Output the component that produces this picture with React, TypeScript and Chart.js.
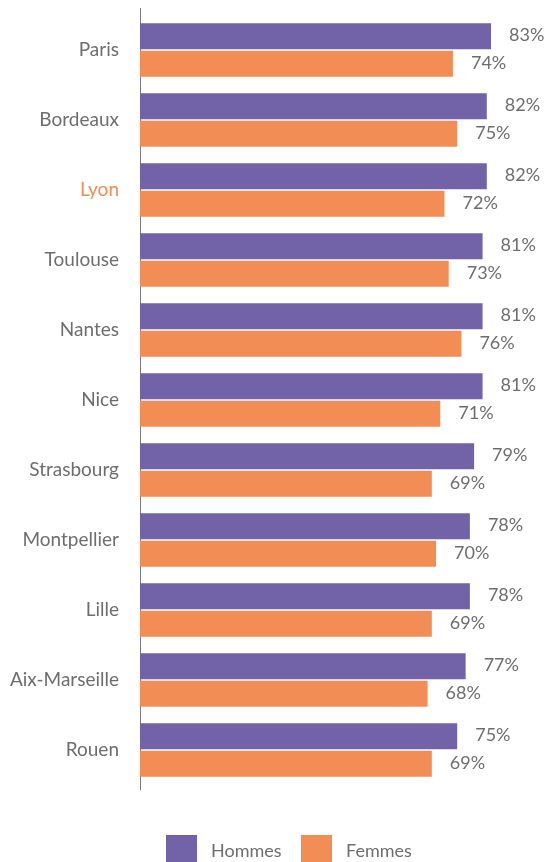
import React, { useEffect, useRef } from "react";
import { Chart, registerables } from "chart.js";

Chart.register(...registerables);

const categories = [
  "Paris",
  "Bordeaux",
  "Lyon",
  "Toulouse",
  "Nantes",
  "Nice",
  "Strasbourg",
  "Montpellier",
  "Lille",
  "Aix-Marseille",
  "Rouen",
];
const hommes = [83, 82, 82, 81, 81, 81, 79, 78, 78, 77, 75];
const femmes = [74, 75, 72, 73, 76, 71, 69, 70, 69, 68, 69];
const seriesLabels = ["Hommes", "Femmes"];
const highlighted = "Lyon";

const PURPLE = "#7263a8";
const ORANGE = "#f18d55";
const GREY = "#6e6e6e";
const FONT = "Lato, 'Open Sans', sans-serif";

export default function App() {
  const ref = useRef<HTMLCanvasElement | null>(null);

  useEffect(() => {
    const canvas = ref.current;
    if (!canvas) return;

    const valueLabels = {
      id: "valueLabels",
      afterDatasetsDraw(chart: any) {
        const ctx = chart.ctx;
        ctx.save();
        ctx.font = `18px ${FONT}`;
        ctx.fillStyle = GREY;
        ctx.textAlign = "left";
        ctx.textBaseline = "middle";
        chart.data.datasets.forEach((ds: any, di: number) => {
          const meta = chart.getDatasetMeta(di);
          meta.data.forEach((el: any, i: number) => {
            ctx.fillText(`${ds.data[i]}%`, el.x + 18, el.y - 1);
          });
        });
        ctx.restore();
      },
    };

    const axisLine = {
      id: "axisLine",
      beforeDatasetsDraw(chart: any) {
        const { ctx, chartArea } = chart;
        ctx.save();
        ctx.strokeStyle = "#7a7a7a";
        ctx.lineWidth = 1;
        ctx.beginPath();
        ctx.moveTo(chartArea.left + 0.5, chartArea.top - 7);
        ctx.lineTo(chartArea.left + 0.5, chartArea.bottom + 5);
        ctx.stroke();
        ctx.restore();
      },
    };

    const customLegend = {
      id: "customLegend",
      afterDraw(chart: any) {
        const ctx = chart.ctx;
        const xs = [166, 301];
        ctx.save();
        ctx.font = `18px ${FONT}`;
        ctx.textAlign = "left";
        ctx.textBaseline = "middle";
        chart.data.datasets.forEach((ds: any, i: number) => {
          ctx.fillStyle = ds.backgroundColor;
          ctx.fillRect(xs[i], 835, 31, 28);
          ctx.fillStyle = GREY;
          ctx.fillText(ds.label, xs[i] + 45, 851);
        });
        ctx.restore();
      },
    };

    const chart = new Chart(canvas, {
      type: "bar",
      data: {
        labels: categories,
        datasets: [
          {
            label: seriesLabels[0],
            data: hommes,
            backgroundColor: PURPLE,
            categoryPercentage: 55 / 70,
            barPercentage: 26 / 27.5,
          },
          {
            label: seriesLabels[1],
            data: femmes,
            backgroundColor: ORANGE,
            categoryPercentage: 55 / 70,
            barPercentage: 26 / 27.5,
          },
        ],
      },
      options: {
        indexAxis: "y",
        animation: false,
        responsive: false,
        maintainAspectRatio: false,
        layout: { padding: { top: 15, bottom: 77, left: 0, right: 1 } },
        plugins: {
          legend: { display: false },
          tooltip: { enabled: false },
        },
        scales: {
          x: {
            display: false,
            min: 0,
            max: 96,
          },
          y: {
            grid: { display: false, drawTicks: false },
            border: { display: false },
            afterFit(scale: any) {
              scale.width = 140;
              scale.paddingTop = 0;
              scale.paddingBottom = 0;
            },
            ticks: {
              padding: 21,
              font: { family: FONT, size: 19 },
              color: (c: any) =>
                categories[c.index] === highlighted ? ORANGE : GREY,
            },
          },
        },
      },
      plugins: [axisLine, valueLabels, customLegend],
    });

    return () => chart.destroy();
  }, []);

  return (
    <div style={{ position: "fixed", left: 0, top: 0, width: 547, height: 862, background: "#fff" }}>
      <canvas ref={ref} width={547} height={862} style={{ display: "block" }} />
    </div>
  );
}
